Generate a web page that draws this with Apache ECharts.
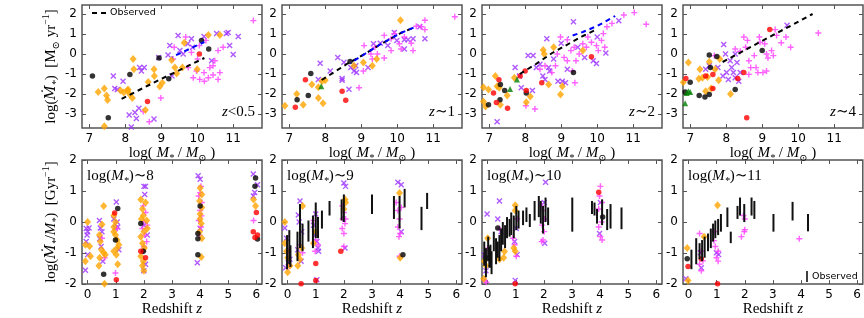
<!DOCTYPE html>
<html><head><meta charset="utf-8">
<script src="https://cdn.jsdelivr.net/npm/echarts@6/dist/echarts.min.js"></script>
<style>html,body{margin:0;padding:0;background:#fff}#c{width:864px;height:318px}</style>
</head><body><div id="c"></div>
<script>
// ---------- tick labels ----------
const massTicks = [7, 8, 9, 10, 11];
const sfrTicks = [-3, -2, -1, 0, 1, 2];
const zTicks = [0, 1, 2, 3, 4, 5, 6];
const ssfrTicks = [-2, -1, 0, 1, 2];
const topPanelLabels = ['<0.5', '∼1', '∼2', '∼4'];
const bottomPanelLabels = ['8', '9', '10', '11'];

// ---------- top row: log SFR vs log M* ----------
// panel z<0.5
const t1Orange = [[7.42,-3.61],[7.25,-1.9],[7.42,-1.73],[7.48,-2.07],[7.51,-2.3],[7.87,-1.83],[7.96,-1.92],[8.06,-1.83],[8.13,-2.03],[8.2,-2.2],[8.22,-0.25],[8.24,-0.76],[8.08,-1.78],[8.56,-2.8],[8.64,-1.4],[8.81,-1.1],[8.8,-0.76],[8.96,-1.63],[9.03,-1.44],[9.29,-0.3],[9.38,-0.68],[9.43,-0.98],[9.59,-0.68],[9.64,0.56],[10.0,-0.76],[10.31,0.95],[10.63,0.95]];
const t1Black = [[7.09,-1.1],[7.53,-3.19],[8.13,-1.02],[8.94,-0.2],[9.21,-1.24],[10.12,0.68],[10.32,0.25]];
const t1Red = [[8.62,-2.37],[10.06,0]];
const t1Green = [];
const t1Purple = [[7.67,-1.1],[7.71,-1.73],[7.78,-1.78],[7.94,-1.36],[8.11,-3.05],[8.27,-2.92],[8.31,-3.22],[8.38,-2.71],[8.4,-0.68],[8.45,-0.85],[8.53,-0.68],[8.8,-3.25],[8.93,-0.17],[9.19,-0.05],[9.24,0.42],[9.3,-1.1],[9.47,0.93],[9.52,0.17],[9.61,0],[9.74,0.51],[9.87,0.34],[9.84,0.76],[10.19,0.88],[10.4,-0.34],[10.54,1.02],[10.81,1.02],[10.9,0.42],[11.0,-0.03],[11.14,0.88],[10.86,1.07],[8.17,-3.65]];
const t1Magenta = [[9.68,0.85],[9.33,-0.25],[9.36,0.34],[9.84,0.08],[9.98,-0.85],[9.89,-1.19],[10.07,-1.27],[10.19,-0.93],[10.31,-1.19],[10.44,-1.05],[10.58,-1.27],[10.63,-0.93],[10.44,-0.59],[10.49,-0.34],[10.58,0.17],[10.72,0.34],[10.24,0.68],[10.06,0.42],[10.01,-0.25],[9.75,-0.68],[10.2,-1.36],[8.99,-2.2],[8.5,-2.88],[8.67,-3.39],[10.35,-0.68],[11.56,1.67]];
const t1Observed = [[7.9,-2.24],[9.0,-1.25],[10.2,-0.2]];
const t1Blue = [[9.3,-0.15],[10.2,0.6]];

// panel z~1
const t2Orange = [[6.88,-2.59],[7.21,-2.0],[7.39,-2.54],[7.63,-1.53],[7.81,-1.66],[7.91,-1.36],[8.0,-1.31],[7.81,-2.2],[7.94,-2.46],[8.8,-0.59],[9.06,-0.42],[9.31,-0.59],[9.43,-0.25],[10.09,1.69]];
const t2Black = [[7.6,-0.98],[7.22,-2.29],[7.53,-2.08],[8.69,-0.37]];
const t2Red = [[7.45,-1.29],[7.17,-2.66],[8.47,-1.86],[8.57,-2.31]];
const t2Green = [[7.89,-1.61]];
const t2Purple = [[7.86,-0.46],[7.81,-1.27],[8.14,-0.85],[8.35,-0.17],[8.47,-1.31],[8.47,-1.22],[8.66,-1.76],[8.52,-0.41],[8.71,-0.68],[8.8,-0.85],[8.87,-0.93],[8.85,-0.59],[9.19,-0.68],[9.34,0.51],[9.53,0.54],[9.74,0.42],[9.92,1.07],[9.99,0.68],[10.2,0.25],[10.3,0.71],[10.44,0.76],[10.63,1.36],[10.77,0.76],[10.2,0.71]];
const t2Magenta = [[8.94,-1.69],[9.06,-0.85],[9.27,0],[9.38,0.34],[9.45,0],[9.64,-0.2],[9.08,0.42],[9.64,0.93],[9.83,0.76],[9.92,1.02],[10.06,0.51],[10.2,0.85],[10.39,0.54],[10.44,0.17],[10.53,1.39],[10.67,1.36],[10.77,1.69],[10.77,1.22],[9.31,-0.25],[9.83,0.17],[10.11,0.25],[11.6,1.86]];
const t2Observed = [[7.9,-1.3],[8.3,-0.85],[8.6,-0.5],[9.1,0],[9.5,0.45],[9.85,0.8],[10.1,1.05],[10.45,1.32]];
const t2Blue = [[8.7,-0.45],[9.1,0],[9.5,0.45],[9.85,0.8],[10.1,1.05],[10.5,1.35]];

// panel z~2
const t3Orange = [[6.84,-1.66],[6.84,-2.37],[6.9,-2.63],[6.98,-1.78],[7.17,-1.1],[7.22,-1.61],[7.28,-1.69],[7.31,-2.54],[7.5,-2.07],[7.7,-1.19],[8.03,-2.41],[8.14,-2.12],[8.5,0.2],[8.53,0],[8.65,-1.53],[8.79,0.34],[8.98,-2.03],[9.03,-1.61],[9.6,0.17]];
const t3Black = [[6.98,-2.54],[7.31,-1.53],[7.43,-1.83],[7.3,-2.29],[8.03,-1.95],[9.34,-0.93]];
const t3Red = [[7.12,-1.95],[7.27,-1.29],[7.2,-2.42],[7.51,-2.71],[7.86,-1.1],[8.03,-1.83],[8.46,-1.44],[9.84,-0.14],[8.0,-0.85]];
const t3Green = [[7.58,-1.75],[7.77,-1.27]];
const t3Purple = [[7.22,-3.39],[7.72,-0.68],[7.84,-1.1],[7.89,-1.69],[8.08,-0.08],[8.22,-0.08],[8.2,-1.83],[8.31,-0.68],[8.41,-0.51],[8.49,-1.1],[8.55,-1.27],[8.6,0.76],[8.65,-0.68],[8.68,-0.85],[8.79,-0.25],[8.91,-1.36],[9.03,-1.36],[9.12,-1.44],[9.17,-0.76],[9.0,0.54],[9.34,1.61],[9.46,0.34],[9.65,-0.17],[9.89,-0.34],[9.98,-0.47],[10.0,0.85],[10.24,0.05],[10.6,1.66]];
const t3Magenta = [[8.02,-2.59],[8.27,-2.75],[8.41,-0.76],[8.55,-0.59],[8.74,-0.93],[8.84,-0.59],[8.89,0],[9.08,-0.17],[9.17,-0.34],[9.27,0.17],[9.36,0.34],[9.41,-0.34],[9.5,0],[9.6,0.51],[9.7,0.34],[9.74,0.85],[9.84,0.59],[9.98,0.42],[10.12,0.68],[10.17,1.02],[10.21,0.34],[10.27,1.36],[10.41,1.53],[10.74,1.95],[11.03,2.07],[11.36,1.49],[9.38,-1.44],[8.98,0.85],[9.17,0.71],[10.03,0.17],[9.31,-0.85]];
const t3Observed = [[7.85,-1.0],[8.3,-0.5],[8.75,0.05],[9.2,0.5],[9.6,0.9],[9.95,1.2]];
const t3Blue = [[9.2,0.85],[9.6,1.1],[10.0,1.4],[10.5,1.9]];

// panel z~4
const t4Orange = [[6.95,-0.42],[6.81,-1.41],[7.27,-0.76],[7.24,-1.24],[7.34,-1.19],[7.43,-1.86],[7.48,-1.15],[7.53,-0.39],[7.69,-0.76],[7.58,-1.73],[7.79,-1.31],[8.12,-2.0],[7.82,-0.25]];
const t4Black = [[6.78,-2.97],[6.86,-1.9],[7.0,-1.41],[7.25,-2.08],[7.41,-2.15],[7.53,-2.03],[7.53,-0.05],[7.56,-0.68],[7.74,-0.12],[8.25,-1.78],[9.0,0.17]];
const t4Red = [[6.88,-1.22],[7.43,-1.1],[7.63,-1.02],[7.63,-1.73],[8.32,-1.22],[8.49,-0.93],[8.57,-3.19],[9.21,1.22]];
const t4Green = [[6.95,-1.86],[6.9,-1.95],[7.0,-1.9],[6.86,-2.46]];
const t4Purple = [[7.43,-0.76],[7.53,-0.59],[7.93,0.47],[7.98,0],[8.01,-0.93],[8.06,-1.27],[8.15,-0.68],[8.2,-0.93],[8.25,-1.19],[8.3,-0.42],[8.35,-1.36],[8.39,-0.93],[8.11,-0.34],[8.25,0],[7.77,-0.68],[7.91,-1.1],[9.69,1.44]];
const t4Magenta = [[7.67,-0.08],[8.25,0.25],[8.39,0.14],[8.49,0.85],[8.54,0.34],[8.59,0.68],[8.63,-0.34],[8.68,-0.68],[8.78,-0.08],[8.83,-0.68],[8.88,-0.93],[8.92,0.85],[8.94,0.59],[9.07,0.51],[9.12,0],[9.16,-0.2],[9.26,0.17],[9.31,-0.08],[9.4,0.93],[9.36,1.22],[9.02,-0.93],[9.12,-0.85],[8.63,-1.02],[9.53,0.56],[9.66,0.85],[9.79,0.34],[10.56,1.05]];
const t4Observed = [[7.9,-0.4],[10.4,2.0]];
const t4Blue = [];

// ---------- bottom row: log sSFR vs redshift ----------
// log M* ~ 8
const b1Orange = [[0,0],[-0.08,-0.73],[0.07,-0.78],[0.1,-1.1],[-0.08,-1.26],[0.57,0.52],[0.51,-0.08],[0.42,-0.42],[0.45,-0.63],[0.49,-0.89],[0.43,-1.15],[0.57,-0.99],[0.63,-1.05],[0.4,-1.41],[0.6,-1.99],[0.93,0.21],[0.99,0],[0.93,-0.31],[0.99,-0.42],[1.05,-0.58],[0.93,-0.94],[1.05,-0.84],[1.11,-0.73],[1.07,-1.36],[1.02,-1.05],[0.93,-0.16],[1.89,0.73],[1.95,0.42],[1.98,0.21],[2.0,-0.31],[1.89,-0.47],[1.95,-0.68],[2.02,-0.84],[1.89,-1.1],[1.98,-1.26],[1.95,-1.41],[2.0,-1.57],[2.06,0.63],[2.1,0.05],[2.12,-0.21],[1.91,0.1],[4.0,1.1],[4.06,0.89],[3.98,0.68],[4.06,0.47],[4.0,0.1],[4.04,-0.05],[3.98,-0.31],[4.06,-0.52],[4.0,0.26],[4.04,-1.13],[5.9,0.73],[5.97,0.52]];
const b1Black = [[0.57,-1.68],[1.07,0.44],[0.99,-0.58],[1.89,-0.05],[1.98,-0.94],[3.92,-0.37],[3.92,-0.54],[3.92,-1.05],[4.0,0.52],[5.97,1.42],[5.95,1.15],[6.04,-0.55]];
const b1Red = [[0.96,0.29],[1.02,-1.86],[2.06,-1.15],[1.89,-0.94],[6.0,0.31],[5.89,-0.31],[5.95,-0.5],[6.04,-0.42]];
const b1Purple = [[-0.05,-0.21],[0,-0.31],[-0.02,-0.42],[-0.05,-0.63],[0,-1.05],[-0.08,-1.55],[0.05,-0.19],[0.42,0.05],[0.45,-0.19],[0.51,-0.31],[0.43,-0.54],[0.48,-0.79],[0.54,-1.26],[1.02,0.65],[0.93,0.1],[1.05,0.0],[0.99,-0.19],[1.11,-0.89],[1.07,-0.16],[2.0,1.15],[2.06,1.15],[2.03,0.89],[2.0,-0.1],[2.12,-0.42],[2.06,-1.36],[2.0,-1.57],[3.93,1.49],[4.0,1.38],[3.9,-1.31],[4.0,-0.2],[5.89,1.55],[6.04,1.2],[5.89,0.84],[5.94,0.95]];
const b1Magenta = [[0.6,-1.15],[0.51,-0.52],[0.99,-1.64],[1.05,-0.21],[1.98,0.52],[2.06,0.31],[2.0,0],[2.12,-0.1],[1.95,-0.21],[2.03,-0.42],[2.1,-0.63],[2.0,-0.79],[1.98,-0.94],[4.03,1.15],[3.95,0.84],[4.06,0.63],[4.0,0.37],[3.95,0.05],[4.03,-0.16],[3.98,-0.42],[5.9,0.05],[4.0,0.95],[4.05,0.2]];
const b1Bars = [];

// log M* ~ 9
const b2Orange = [[-0.1,0],[-0.1,-0.68],[-0.04,-0.94],[0,-1.15],[0,-1.62],[0.08,-1.41],[0.53,0.52],[0.38,-1.05],[0.44,-1.2],[0.36,-1.41],[0.5,-0.84],[0.92,-0.68],[1.0,-0.31],[2.04,0.73],[2.06,0.63],[2.0,0.42],[3.98,0.94],[4.0,-1.15]];
const b2Black = [[4.1,-1.05]];
const b2Red = [[0.48,-1.99],[1.0,-1.34],[1.0,-1.88],[1.89,-0.94]];
const b2Purple = [[-0.1,-0.19],[-0.04,-0.52],[0.02,-1.31],[0.08,-1.2],[-0.07,-1.47],[0.44,0.68],[0.38,0.23],[0.41,0],[0.5,-0.31],[0.36,-0.89],[0.48,-1.26],[1.0,0.26],[0.92,-0.1],[1.04,-0.63],[1.08,-0.84],[0.98,-0.42],[1.04,-1.86],[1.1,-0.94],[2.0,1.26],[2.06,1.15],[2.04,-0.84],[3.92,1.28],[4.04,1.2],[4.04,-0.31]];
const b2Magenta = [[0.02,-0.94],[0.06,-1.41],[0.43,-0.73],[0.53,-0.99],[0.92,0.05],[1.0,-0.58],[1.08,-0.73],[0.98,-0.94],[1.94,0.52],[2.0,0.31],[1.96,0.1],[2.04,-0.05],[1.94,-0.21],[2.0,-0.37],[2.06,0.1],[2.0,-0.79],[3.86,0.63],[3.92,0.37],[4.04,0.47],[3.98,0.1],[3.92,-0.16],[4.0,-0.37],[3.96,-0.47],[3.98,-1.1]];
const b2Bars = [[-0.02,-1.52,-0.42],[0.06,-1.36,-0.26],[0.1,-1.45,-0.75],[0.44,-0.84,0.58],[0.35,-1.26,-0.31],[0.53,-0.94,-0.05],[0.74,-0.63,0.05],[0.9,-0.84,0.21],[1.0,-0.52,0.63],[1.08,-0.52,0.16],[1.22,-0.21,0.37],[1.49,0.21,0.68],[1.92,0.05,0.73],[2.0,0,0.89],[3.0,0.26,0.89],[3.78,0.1,0.84],[3.98,-0.21,0.84],[4.16,0.47,1.07],[4.76,-0.26,0.49],[4.96,0.42,0.94]];

// log M* ~ 10
const b3Orange = [[-0.12,-1.26],[-0.06,-1.41],[-0.14,-1.83],[0,-0.52],[0.57,-1.15],[0.42,-1.2],[0.98,0.54],[0.98,0.37],[0.98,-0.94],[0.93,-0.84],[0.6,-0.95]];
const b3Black = [[-0.06,-1.15],[0.36,-0.19],[4.09,0.16]];
const b3Red = [[0.98,-1.99],[3.95,0.96]];
const b3Purple = [[-0.02,0.26],[-0.12,-1.05],[-0.06,-1.57],[0.42,0.68],[0.36,0.1],[0.48,-0.31],[1.02,-0.21],[1.05,-1.05],[0.98,-1.88],[0.96,-0.63],[2.06,1.28],[2.01,0.63],[2.03,-0.68],[4.01,0.63],[3.98,-0.37]];
const b3Magenta = [[0,-0.84],[-0.1,-1.88],[-0.05,-1.94],[0.42,-0.21],[0.9,-0.52],[0.96,-0.73],[1.02,-1.1],[1.05,0.1],[1.92,0.52],[1.97,0.37],[2.03,0.1],[1.94,-0.1],[2.01,-0.31],[1.97,-0.58],[1.92,-0.63],[4.01,1.15],[3.98,0.84],[4.07,0.63],[3.95,0.42],[4.05,0],[3.95,-0.16],[4.01,-0.47],[4.07,-0.58]];
const b3Bars = [[-0.12,-1.41,-0.63],[-0.06,-1.78,-0.84],[0.02,-1.26,-0.47],[0.06,-1.47,-0.79],[0.1,-1.47,-0.73],[0.14,-1.68,-0.94],[0.22,-0.94,-0.31],[0.3,-1.36,-0.52],[0.36,-1.15,-0.63],[0.42,-1.26,-0.42],[0.48,-0.94,-0.21],[0.54,-0.73,0],[0.62,-0.84,-0.1],[0.69,-0.52,0.16],[0.78,-0.47,0.1],[0.84,-0.42,0.31],[0.93,-0.52,0.21],[1.02,-0.26,0.52],[1.1,-0.21,0.37],[1.26,-0.1,0.37],[1.38,0,0.47],[1.5,-0.16,0.26],[1.67,0.05,0.68],[1.82,0.16,0.84],[1.89,-0.05,0.68],[1.97,-0.37,0.52],[2.06,0,0.79],[2.15,-0.1,0.47],[3.01,-0.31,0.79],[3.71,0.26,0.68],[3.8,0.21,0.63],[3.89,-0.05,0.42],[4.07,-0.1,0.73],[4.25,-0.26,0.42],[4.37,-0.21,0.58],[4.76,-0.23,0.47]];

// log M* ~ 11
const b4Orange = [[-0.05,-0.84],[-0.02,-1.88],[1.03,0.54],[0.55,-0.47]];
const b4Black = [[-0.05,-1.18]];
const b4Red = [[-0.02,-1.43],[0.45,-1.18],[1.03,-1.99]];
const b4Purple = [[0.45,-1.47],[0.42,-0.99],[0.99,-0.99],[1.07,-1.05],[-0.1,-1.83]];
const b4Magenta = [[0.39,-0.37],[0.45,-0.94],[0.51,-1.25],[0.39,-1.36],[0.45,-1.57],[0.93,-0.31],[0.95,-0.79],[1.05,-0.94],[0.99,-1.15],[1.05,-1.26],[0.9,-0.6],[1.95,0.21],[2.0,0.1],[1.98,-0.31],[2.0,-0.25],[1.88,-0.47],[3.94,-0.54]];
const b4Bars = [[0.1,-1.52,-0.89],[0.27,-1.36,-0.52],[0.39,-1.2,-0.68],[0.48,-1.26,-0.58],[0.57,-1.15,-0.47],[0.69,-0.94,-0.37],[0.79,-0.84,-0.21],[0.87,-0.63,-0.05],[0.95,-0.52,0.05],[1.05,-0.42,0.1],[1.15,-0.31,0.26],[1.38,-0.16,0.47],[1.5,-0.68,-0.31],[1.74,0.1,0.52],[1.83,0.21,0.79],[1.98,0.0,0.58],[2.24,0.21,0.79],[2.34,0.1,0.68],[3.02,-0.31,0.26],[3.7,0.05,0.65],[4.25,-0.3,0.26]];

// ---------- layout / style ----------
const LEFTS = [82, 282, 482, 683];
const PW = 180;
const TOP1 = 5, H1 = 123, TOP2 = 160, H2 = 129;
const SERIF = "'Liberation Serif','DejaVu Serif',serif";
const SANS = "'DejaVu Sans',sans-serif";
const FRAME = '#555';
const rich = {
  r: {fontFamily: SERIF, fontSize: 15, color: '#000', lineHeight: 20},
  i: {fontFamily: SERIF, fontSize: 15, fontStyle: 'italic', color: '#000', lineHeight: 20},
  md: {fontFamily: "'DejaVu Serif',serif", fontSize: 14, fontStyle: 'italic', color: '#000', lineHeight: 20},
  sb: {fontFamily: SERIF, fontSize: 10, fontStyle: 'italic', color: '#000', verticalAlign: 'bottom', lineHeight: 12},
  sbr: {fontFamily: SERIF, fontSize: 10, color: '#000', verticalAlign: 'bottom', lineHeight: 12},
  sp: {fontFamily: SERIF, fontSize: 10, color: '#000', verticalAlign: 'top', lineHeight: 12}
};

const topPanels = [
  {orange: t1Orange, black: t1Black, red: t1Red, green: t1Green, purple: t1Purple, magenta: t1Magenta, obs: t1Observed, blue: t1Blue},
  {orange: t2Orange, black: t2Black, red: t2Red, green: t2Green, purple: t2Purple, magenta: t2Magenta, obs: t2Observed, blue: t2Blue},
  {orange: t3Orange, black: t3Black, red: t3Red, green: t3Green, purple: t3Purple, magenta: t3Magenta, obs: t3Observed, blue: t3Blue},
  {orange: t4Orange, black: t4Black, red: t4Red, green: t4Green, purple: t4Purple, magenta: t4Magenta, obs: t4Observed, blue: t4Blue}
];
const bottomPanels = [
  {orange: b1Orange, black: b1Black, red: b1Red, purple: b1Purple, magenta: b1Magenta, bars: b1Bars},
  {orange: b2Orange, black: b2Black, red: b2Red, purple: b2Purple, magenta: b2Magenta, bars: b2Bars},
  {orange: b3Orange, black: b3Black, red: b3Red, purple: b3Purple, magenta: b3Magenta, bars: b3Bars},
  {orange: b4Orange, black: b4Black, red: b4Red, purple: b4Purple, magenta: b4Magenta, bars: b4Bars}
];

const grids = [], xAxes = [], yAxes = [], series = [], graphics = [];

function addPanel(gi, left, top, h, xr, yr, xt, yt, xName, yName, xGap) {
  grids.push({left: left, top: top, width: PW, height: h, show: true, borderColor: FRAME, borderWidth: 1.5, containLabel: false});
  const tick = (vals) => ({show: true, inside: true, length: 4, customValues: vals, lineStyle: {color: FRAME, width: 1}});
  const lab = (vals) => ({show: true, customValues: vals, color: '#000', fontFamily: SANS, fontSize: 12, margin: 5});
  const line = {show: false, onZero: false};
  xAxes.push({type: 'value', gridIndex: gi, min: xr[0], max: xr[1], position: 'bottom',
    axisLine: line, splitLine: {show: false}, axisTick: tick(xt), axisLabel: lab(xt),
    name: xName, nameLocation: 'middle', nameGap: xGap, nameTextStyle: {rich: rich, verticalAlign: 'top'}});
  xAxes.push({type: 'value', gridIndex: gi, min: xr[0], max: xr[1], position: 'top',
    axisLine: line, splitLine: {show: false}, axisTick: tick(xt), axisLabel: {show: false}});
  yAxes.push({type: 'value', gridIndex: gi, min: yr[0], max: yr[1], position: 'left',
    axisLine: line, splitLine: {show: false}, axisTick: tick(yt), axisLabel: lab(yt),
    name: yName || '', nameLocation: 'middle', nameGap: 21, nameTextStyle: {rich: rich}});
  yAxes.push({type: 'value', gridIndex: gi, min: yr[0], max: yr[1], position: 'right',
    axisLine: line, splitLine: {show: false}, axisTick: tick(yt), axisLabel: {show: false}});
}

const XSYM = 'path://M0,0L10,10M10,0L0,10';
const PSYM = 'path://M5,0L5,10M0,5L10,5';
function scatter(gi, data, kind) {
  const base = {type: 'scatter', xAxisIndex: gi * 2, yAxisIndex: gi * 2, data: data, silent: true, z: 3};
  if (kind === 'purple') return Object.assign(base, {symbol: XSYM, symbolSize: 5, itemStyle: {color: 'rgba(0,0,0,0)', borderColor: '#9b30ff', borderWidth: 1.4}});
  if (kind === 'magenta') return Object.assign(base, {symbol: PSYM, symbolSize: 6, itemStyle: {color: 'rgba(0,0,0,0)', borderColor: '#ff3cff', borderWidth: 1.4}});
  if (kind === 'orange') return Object.assign(base, {symbol: 'diamond', symbolSize: [7, 8], itemStyle: {color: '#ffa500'}});
  if (kind === 'black') return Object.assign(base, {symbol: 'circle', symbolSize: 5.5, itemStyle: {color: '#000'}});
  if (kind === 'red') return Object.assign(base, {symbol: 'circle', symbolSize: 5.5, itemStyle: {color: '#ff0000'}});
  if (kind === 'green') return Object.assign(base, {symbol: 'triangle', symbolSize: 6, itemStyle: {color: '#008000'}});
}

const massName = '{r|log( }{i|M}{sb|*}{r| / }{i|M}{sbr|⊙}{r| )}';
const zName = '{r|Redshift }{i|z}';
const sfrName = '{r|log(}{md|Ṁ}{sb|*}{r|)  [M}{sbr|⊙}{r| yr}{sp|−1}{r|]}';
const ssfrName = '{r|log(}{md|Ṁ}{sb|*}{r|/}{i|M}{sb|*}{r|)  [Gyr}{sp|−1}{r|]}';

topPanels.forEach((p, k) => {
  const gi = k;
  addPanel(gi, LEFTS[k], TOP1, H1, [6.8, 11.8], [-3.7, 2.45], massTicks, sfrTicks, massName, k === 0 ? sfrName : '', 11);
  ['purple', 'magenta', 'orange', 'black', 'red', 'green'].forEach(kind => {
    if (p[kind] && p[kind].length) series.push(scatter(gi, p[kind], kind));
  });
  series.push({type: 'line', xAxisIndex: gi * 2, yAxisIndex: gi * 2, data: p.obs, symbol: 'none', silent: true, z: 5,
    lineStyle: {color: '#000', width: 2, type: [5, 4]}});
  if (p.blue.length) series.push({type: 'line', xAxisIndex: gi * 2, yAxisIndex: gi * 2, data: p.blue, symbol: 'none', silent: true, z: 6,
    lineStyle: {color: '#0000ff', width: 2, type: [5, 4], dashOffset: 4.5}});
  graphics.push({type: 'text', x: LEFTS[k] + PW - 7, y: TOP1 + H1 - 6,
    style: {text: '{i|z}{r|' + topPanelLabels[k] + '}', rich: rich, align: 'right', verticalAlign: 'bottom'}});
});

bottomPanels.forEach((p, k) => {
  const gi = 4 + k;
  addPanel(gi, LEFTS[k], TOP2, H2, [-0.2, 6.2], [-2, 2], zTicks, ssfrTicks, zName, k === 0 ? ssfrName : '', 13);
  ['purple', 'magenta', 'orange', 'black', 'red'].forEach(kind => {
    if (p[kind] && p[kind].length) series.push(scatter(gi, p[kind], kind));
  });
  if (p.bars.length) series.push({type: 'custom', xAxisIndex: gi * 2, yAxisIndex: gi * 2, data: p.bars, silent: true, z: 5,
    encode: {x: 0, y: [1, 2]},
    renderItem: function (params, api) {
      const a = api.coord([api.value(0), api.value(1)]);
      const b = api.coord([api.value(0), api.value(2)]);
      return {type: 'line', shape: {x1: a[0], y1: a[1], x2: b[0], y2: b[1]}, style: {stroke: '#111', lineWidth: 2}};
    }});
  graphics.push({type: 'text', x: LEFTS[k] + 5, y: TOP2 + 6,
    style: {text: '{r|log(}{i|M}{sb|*}{r|)∼' + bottomPanelLabels[k] + '}', rich: rich, align: 'left', verticalAlign: 'top'}});
});

// legends
graphics.push({type: 'line', shape: {x1: LEFTS[0] + 10, y1: TOP1 + 8, x2: LEFTS[0] + 24, y2: TOP1 + 8}, style: {stroke: '#000', lineWidth: 2, lineDash: [5, 4]}});
graphics.push({type: 'text', x: LEFTS[0] + 28, y: TOP1 + 8, style: {text: 'Observed', fontFamily: SANS, fontSize: 9.5, fill: '#000', verticalAlign: 'middle'}});
graphics.push({type: 'line', shape: {x1: LEFTS[3] + 124, y1: TOP2 + 111, x2: LEFTS[3] + 124, y2: TOP2 + 122}, style: {stroke: '#000', lineWidth: 1.5}});
graphics.push({type: 'text', x: LEFTS[3] + 129, y: TOP2 + 117, style: {text: 'Observed', fontFamily: SANS, fontSize: 9.5, fill: '#000', verticalAlign: 'middle'}});

const chart = echarts.init(document.getElementById('c'), null, {renderer: 'canvas'});
chart.setOption({
  animation: false,
  backgroundColor: '#fff',
  grid: grids, xAxis: xAxes, yAxis: yAxes, series: series, graphic: graphics
});
</script></body></html>
